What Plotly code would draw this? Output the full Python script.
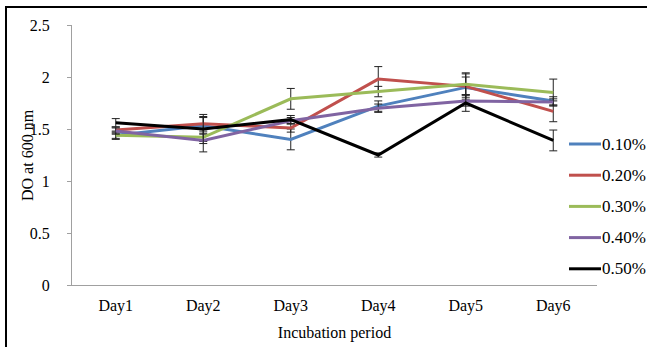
import plotly.graph_objects as go

days = ["Day1", "Day2", "Day3", "Day4", "Day5", "Day6"]
names = ["0.10%", "0.20%", "0.30%", "0.40%", "0.50%"]
colors = ["#4F81BD", "#C0504D", "#9BBB59", "#8064A2", "#000000"]

v010 = [1.44, 1.53, 1.40, 1.72, 1.90, 1.77]
v020 = [1.49, 1.55, 1.51, 1.98, 1.91, 1.67]
v030 = [1.44, 1.42, 1.79, 1.86, 1.93, 1.85]
v040 = [1.48, 1.39, 1.58, 1.70, 1.77, 1.76]
v050 = [1.56, 1.50, 1.59, 1.25, 1.75, 1.39]

e010 = [0.04, 0.08, 0.10, 0.05, 0.10, 0.04]
e020 = [0.03, 0.07, 0.04, 0.12, 0.13, 0.10]
e030 = [0.03, 0.04, 0.10, 0.05, 0.10, 0.13]
e040 = [0.03, 0.11, 0.03, 0.04, 0.05, 0.03]
e050 = [0.04, 0.14, 0.04, 0.02, 0.08, 0.10]

values = [v010, v020, v030, v040, v050]
errors = [e010, e020, e030, e040, e050]

FONT = "Liberation Serif, Times New Roman, serif"
FS = 16

W, H = 647, 347
ML, MR, MT, MB = 72, 50, 25, 62
PW, PH = W - ML - MR, H - MT - MB


def px_x(px):
    return (px - ML) / PW


def px_y(py):
    return (H - MB - py) / PH


fig = go.Figure()
for n, c, v, e in zip(names, colors, values, errors):
    fig.add_trace(go.Scatter(
        x=days, y=v, name=n, mode="lines", showlegend=False,
        line=dict(color=c, width=3),
        error_y=dict(type="data", array=e, visible=True, color="#222222",
                     thickness=1, width=4),
    ))

# legend (drawn as layout items on the right)
leg_top, leg_step = 144, 31.2
for i, (n, c) in enumerate(zip(names, colors)):
    yy = px_y(leg_top + i * leg_step)
    fig.add_shape(type="line", xref="paper", yref="paper",
                  x0=px_x(569), x1=px_x(601), y0=yy, y1=yy,
                  line=dict(color=c, width=3))
    fig.add_annotation(text=n, xref="paper", yref="paper", x=px_x(599.5),
                       y=yy, xanchor="left", yanchor="middle", showarrow=False,
                       font=dict(family=FONT, size=17, color="black"))

# outer frame
fig.add_shape(type="rect", xref="paper", yref="paper",
              x0=px_x(6), x1=px_x(660), y0=px_y(360), y1=px_y(7),
              line=dict(color="black", width=2), fillcolor="rgba(0,0,0,0)")

# y-axis title
fig.add_annotation(text="DO at 600 nm", xref="paper", yref="paper",
                   x=px_x(27), y=0.5, xanchor="center", yanchor="middle",
                   textangle=-90, showarrow=False,
                   font=dict(family=FONT, size=FS, color="black"))

fig.update_layout(
    width=W, height=H,
    margin=dict(l=ML, r=MR, t=MT, b=MB),
    paper_bgcolor="white", plot_bgcolor="white",
    font=dict(family=FONT, size=FS, color="black"),
    showlegend=False,
    xaxis=dict(showgrid=False, showline=True, linecolor="#A0A0A0", linewidth=1,
               range=[-0.5, len(days) - 0.5],
               ticks="", tickfont=dict(family=FONT, size=FS),
               ticklabelstandoff=6, automargin=False,
               title=dict(text="Incubation period", font=dict(family=FONT, size=FS), standoff=12),
               zeroline=False),
    yaxis=dict(range=[0, 2.5], dtick=0.5, showgrid=False, showline=True,
               linecolor="#A0A0A0", linewidth=1, ticks="outside", ticklen=4,
               tickcolor="#A0A0A0", tickfont=dict(family=FONT, size=FS),
               ticklabelstandoff=14, automargin=False,
               zeroline=False),
)

fig.write_html("out.html")
